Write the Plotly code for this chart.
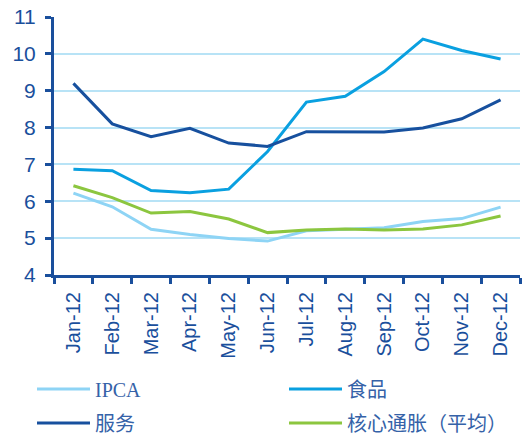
import plotly.graph_objects as go

months = ["Jan-12", "Feb-12", "Mar-12", "Apr-12", "May-12", "Jun-12",
          "Jul-12", "Aug-12", "Sep-12", "Oct-12", "Nov-12", "Dec-12"]
ipca = [6.22, 5.85, 5.24, 5.10, 4.99, 4.92, 5.20, 5.24, 5.28, 5.45, 5.53, 5.84]
food = [6.87, 6.83, 6.29, 6.23, 6.33, 7.35, 8.69, 8.85, 9.52, 10.40, 10.09, 9.86]
services = [9.20, 8.10, 7.75, 7.98, 7.58, 7.49, 7.89, 7.88, 7.88, 7.99, 8.24, 8.75]
core = [6.42, 6.10, 5.68, 5.72, 5.52, 5.15, 5.22, 5.25, 5.22, 5.25, 5.36, 5.60]
y_ticks = [4, 5, 6, 7, 8, 9, 10, 11]

AXIS = "#1a4f9c"
W, H = 529, 438

fig = go.Figure()
fig.add_trace(go.Scatter(x=months, y=ipca, name="IPCA", mode="lines",
                         line=dict(color="#8ed4f5", width=3), legend="legend"))
fig.add_trace(go.Scatter(x=months, y=food, name="食品", mode="lines",
                         line=dict(color="#0aa0e0", width=3), legend="legend2"))
fig.add_trace(go.Scatter(x=months, y=services, name="服务", mode="lines",
                         line=dict(color="#17509e", width=3), legend="legend3"))
fig.add_trace(go.Scatter(x=months, y=core, name="核心通胀（平均）", mode="lines",
                         line=dict(color="#8cc63f", width=3), legend="legend4"))

legend_font = dict(family="Liberation Serif, Noto Sans CJK SC", size=20, color="#3562a8")


def leg(px_x, px_y):
    return dict(orientation="h", xref="container", yref="container",
                x=px_x / W, y=1 - px_y / H,
                xanchor="left", yanchor="middle", itemwidth=53,
                font=legend_font, bgcolor="rgba(0,0,0,0)")


fig.update_layout(
    width=W, height=H,
    margin=dict(l=54, r=9, t=17, b=163, autoexpand=False),
    plot_bgcolor="white", paper_bgcolor="white",
    showlegend=True,
    legend=leg(32, 389),
    legend2=leg(284, 389),
    legend3=leg(32, 423),
    legend4=leg(284, 423),
    xaxis=dict(type="category", range=[-0.5, 11.5], tickson="boundaries",
               ticks="outside", ticklen=6, automargin=False,
               tickcolor=AXIS, tickwidth=3, showline=True, linecolor=AXIS, linewidth=3,
               showgrid=False, tickangle=-90, ticklabelstandoff=6,
               ticklabeloverflow="allow",
               tickfont=dict(family="Liberation Sans, Arial", size=20, color=AXIS)),
    yaxis=dict(range=[4, 11], tickvals=y_ticks, ticks="outside", ticklen=6,
               automargin=False, ticklabelstandoff=5, ticklabeloverflow="allow",
               tickcolor=AXIS, tickwidth=3, showline=True, linecolor=AXIS, linewidth=3,
               showgrid=True, gridcolor="#b8e3f6", gridwidth=2, zeroline=False,
               tickfont=dict(family="Liberation Sans, Arial", size=21, color=AXIS)),
)
fig.write_html("out.html", config={"displayModeBar": False},
               post_script="document.body.style.margin='0';document.body.style.overflow='hidden';")
